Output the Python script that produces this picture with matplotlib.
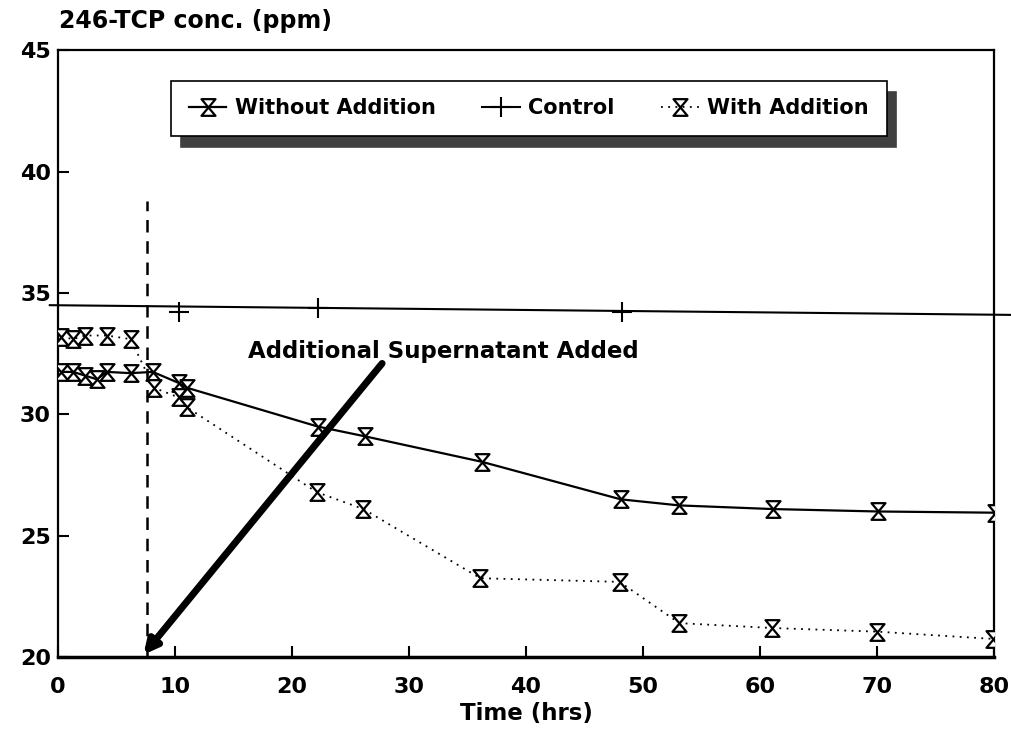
import numpy as np
import matplotlib
matplotlib.use('Agg')
import matplotlib.pyplot as plt
from matplotlib.path import Path

# --- data ---
without_x = [0.3, 1.3, 2.3, 3.3, 4.2, 6.2, 8.1, 10.3, 11.0, 22.2, 26.2, 36.2, 48.1, 53.1, 61.1, 70.1, 80.1]
without_y = [31.75, 31.75, 31.6, 31.45, 31.75, 31.7, 31.75, 31.3, 31.1, 29.5, 29.1, 28.05, 26.5, 26.25, 26.1, 26.0, 25.95]

with_x = [0.3, 1.3, 2.3, 4.2, 6.2, 8.2, 10.3, 11.0, 22.1, 26.1, 36.1, 48.0, 53.1, 61.0, 70.0, 79.9]
with_y = [33.2, 33.1, 33.25, 33.25, 33.1, 31.1, 30.7, 30.3, 26.8, 26.1, 23.25, 23.1, 21.4, 21.2, 21.05, 20.75]

control_x = [10.3, 22.2, 48.2]
control_y = [34.2, 34.4, 34.2]
control_line_x = [-0.7, 81.5]
control_line_y = [34.5, 34.1]

addition_time = 7.6
addition_top = 38.8

arrow_from = (27.7, 32.1)
arrow_to = (7.3, 20.1)
note_text = 'Additional Supernatant Added'
note_pos = (16.2, 32.6)

xticks = [0, 10, 20, 30, 40, 50, 60, 70, 80]
yticks = [20, 25, 30, 35, 40, 45]

plt.rcParams['font.family'] = 'DejaVu Sans'
plt.rcParams['font.weight'] = 'bold'

# hourglass marker
hourglass = Path([(-0.42, 0.5), (0.42, 0.5), (-0.42, -0.5), (0.42, -0.5), (-0.42, 0.5)],
                 [Path.MOVETO, Path.LINETO, Path.LINETO, Path.LINETO, Path.CLOSEPOLY])

fig = plt.figure(figsize=(10.12, 7.4), dpi=100)
ax = fig.add_axes([0.0573, 0.112, 0.925, 0.820])

ax.plot(without_x, without_y, color='black', lw=1.6, marker=hourglass, ms=12,
        mfc='white', mec='black', mew=1.6, label='Without Addition', zorder=3)
ax.plot(control_line_x, control_line_y, color='black', lw=1.5, clip_on=False, zorder=2)
ax.plot(control_x, control_y, ls='none', color='black', marker='+', ms=15, mew=1.5, zorder=3)
ax.plot([], [], color='black', lw=1.5, marker='+', ms=15, mew=1.5, label='Control')
ax.plot(with_x, with_y, color='black', lw=1.3, ls=(0, (1, 3)), marker=hourglass, ms=12,
        mfc='white', mec='black', mew=1.6, label='With Addition', zorder=3)

# time of supernatant addition
ax.plot([addition_time, addition_time], [20, addition_top], color='black', lw=1.8,
        ls=(0, (5, 3.5)), zorder=2)

ax.annotate('', xy=arrow_to, xytext=arrow_from,
            arrowprops=dict(arrowstyle='-|>', color='black', lw=5, mutation_scale=20,
                            shrinkA=0, shrinkB=0), zorder=4)
ax.text(note_pos[0], note_pos[1], note_text, fontsize=16.5, fontweight='bold',
        va='center', ha='left')

ax.set_xlim(0, 80)
ax.set_ylim(20, 45)
ax.set_xticks(xticks)
ax.set_yticks(yticks)
ax.tick_params(direction='in', length=8, width=1.5, labelsize=16, pad=5)
ax.tick_params(axis='x', pad=14)
for s in ax.spines.values():
    s.set_linewidth(1.6)
ax.spines['bottom'].set_linewidth(2.5)

ax.set_xlabel('Time (hrs)', fontsize=16.5, fontweight='bold', labelpad=4)
fig.text(0.058, 0.972, '246-TCP conc. (ppm)', fontsize=17, fontweight='bold',
         ha='left', va='center')

leg = ax.legend(loc='upper center', bbox_to_anchor=(0.503, 0.967), ncol=3,
                fontsize=15, frameon=True, fancybox=False, handlelength=1.8,
                handletextpad=0.4, columnspacing=2.25, borderpad=0.85,
                shadow={'color': '0.25', 'alpha': 1.0, 'ox': 7, 'oy': -8})
leg.get_frame().set_edgecolor('black')
leg.get_frame().set_linewidth(1.2)

fig.savefig('out.png', dpi=100)
